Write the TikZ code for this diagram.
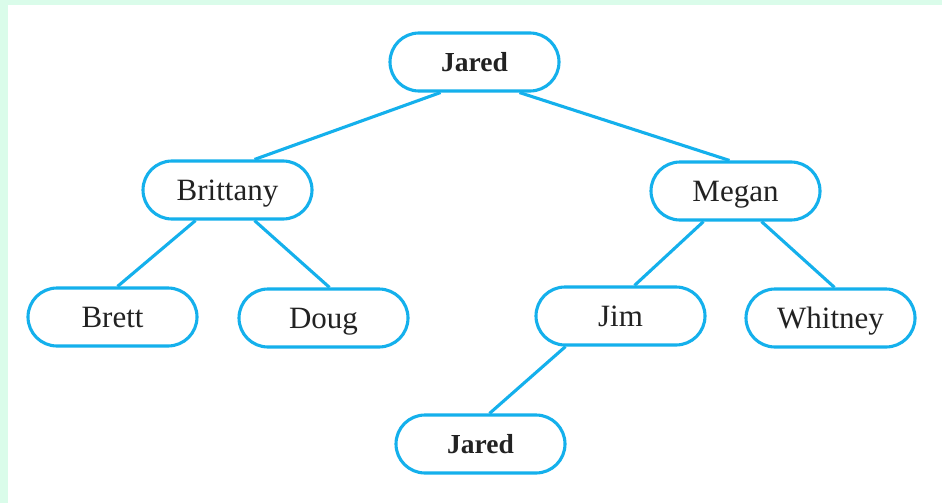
\documentclass[tikz,border=0pt]{standalone}
\usepackage{fontspec}
\setmainfont{Liberation Serif}
\usetikzlibrary{shapes.misc}
\definecolor{treeblue}{RGB}{20,176,236}
\definecolor{mint}{RGB}{218,252,234}
\definecolor{inkgray}{RGB}{34,34,34}
\tikzset{
  person/.style={rounded rectangle, draw=treeblue, line width=3.1pt, fill=white,
    minimum width=169pt, minimum height=58pt, inner sep=0pt, text=inkgray,
    text height=21pt, text depth=0pt,
    font=\fontsize{31}{31}\selectfont},
  rootname/.style={person, text height=19pt, font=\fontsize{27.5}{27.5}\selectfont\bfseries},
  link/.style={draw=treeblue, line width=3.1pt}
}
\begin{document}
\begin{tikzpicture}[x=1pt,y=-1pt]
  % frame: mint band on top and left, white panel
  \fill[mint] (0,0) rectangle (942,503);
  \fill[white] (8,5) rectangle (942,503);
  \useasboundingbox (0,0) rectangle (942,503);

  % people
  \node[rootname] (jared)    at (474.5,62)  {Jared};
  \node[person]   (brittany) at (227.5,190) {Brittany};
  \node[person]   (megan)    at (735.5,191) {Megan};
  \node[person]   (brett)    at (112.5,317) {Brett};
  \node[person]   (doug)     at (323.5,318) {Doug};
  \node[person]   (jim)      at (620.5,316) {Jim};
  \node[person]   (whitney)  at (830.5,318) {Whitney};
  \node[rootname] (jared2)   at (480.5,444) {Jared};

  % links between parents and children
  \draw[link] ([xshift=-34pt]jared.south) -- ([xshift=27pt]brittany.north);
  \draw[link] ([xshift=45pt]jared.south) -- ([xshift=-6pt]megan.north);
  \draw[link] ([xshift=-32pt]brittany.south) -- ([xshift=5pt]brett.north);
  \draw[link] ([xshift=27pt]brittany.south) -- ([xshift=6pt]doug.north);
  \draw[link] ([xshift=-32pt]megan.south) -- ([xshift=14pt]jim.north);
  \draw[link] ([xshift=26pt]megan.south) -- ([xshift=4pt]whitney.north);
  \draw[link] ([xshift=-55pt]jim.south) -- ([xshift=9pt]jared2.north);
\end{tikzpicture}
\end{document}
